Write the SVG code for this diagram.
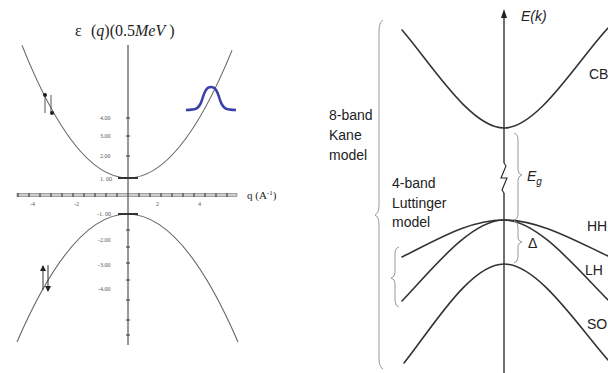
<svg xmlns="http://www.w3.org/2000/svg" width="608" height="373" viewBox="0 0 608 373">
<style>
.curveL{fill:none;stroke:#666;stroke-width:1.1}
.axisL{fill:none;stroke:#333;stroke-width:1}
.tickt{font-family:"Liberation Serif",serif;font-size:6px;fill:#555}
.serif{font-family:"Liberation Serif",serif;fill:#222}
.band{fill:none;stroke:#333;stroke-width:1.6;stroke-linecap:round}
.brace{fill:none;stroke:#999;stroke-width:1}
.lbl{font-family:"Liberation Sans",Arial,sans-serif;font-size:14px;fill:#222}
</style>
<defs>
<marker id="ah" viewBox="0 0 6 6" refX="5" refY="3" markerWidth="6" markerHeight="6" orient="auto" markerUnits="userSpaceOnUse">
<path d="M0,0 L6,3 L0,6 Z" fill="#222"/>
</marker>
</defs>
<rect width="608" height="373" fill="#fff"/>

<!-- LEFT PANEL -->
<g id="left-title">
<text class="serif" x="75" y="36" font-size="16">ε<tspan x="91">(</tspan><tspan font-style="italic">q</tspan>)(0.5<tspan font-style="italic">MeV</tspan> )</text>
</g>
<g id="left-axes">
<rect x="17" y="193.5" width="220" height="3" fill="#ccc" stroke="#777" stroke-width="0.6"/>
<path class="axisL" d="M18,193v4M29,193v4M40,193v4M51,193v4M62,193v4M73,193v4M84,193v4M95,193v4M106,193v4M117,193v4M139,193v4M150,193v4M161,193v4M172,193v4M183,193v4M194,193v4M205,193v4M216,193v4M227,193v4"/>
<line class="axisL" x1="128" y1="45" x2="128" y2="345" stroke-width="1.2"/>
<path class="axisL" d="M126,118h4M126,136h4M126,156h4M126,230h4M126,247h4M126,263h4M126,280h4M126,300h4M126,320h4M126,335h4"/>
<text class="serif" x="247" y="199" font-size="11">q (A<tspan font-size="7" dy="-4">-1</tspan><tspan dy="4">)</tspan></text>
<g class="tickt">
<text x="30" y="206">-4</text>
<text x="74" y="206">-2</text>
<text x="156" y="206">2</text>
<text x="198" y="206">4</text>
<text x="100" y="120">4.00</text>
<text x="100" y="138">3.00</text>
<text x="100" y="158">2.00</text>
<text x="100" y="181">1. 00</text>
<text x="97" y="216">-1. 00</text>
<text x="98" y="242">-2.00</text>
<text x="98" y="267">-3.00</text>
<text x="98" y="291">-4.00</text>
</g>
</g>
<g id="upper-band">
<path class="curveL" d="M22,45.4 Q127,308.1 232,50.4"/>
<line x1="118" y1="178" x2="138" y2="178" stroke="#333" stroke-width="2"/>
</g>
<g id="lower-band">
<path class="curveL" d="M17,342 Q127.5,86 238,342"/>
<line x1="118" y1="214" x2="138" y2="214" stroke="#333" stroke-width="2"/>
</g>
<g id="spin-upper">
<line x1="45" y1="93" x2="45" y2="113" stroke="#555" stroke-width="1"/>
<line x1="51" y1="95" x2="51" y2="112" stroke="#555" stroke-width="1"/>
<circle cx="45" cy="95" r="2" fill="#222"/>
<circle cx="52" cy="113" r="2" fill="#222"/>
</g>
<g id="spin-lower">
<line x1="43" y1="290" x2="43" y2="266" stroke="#333" stroke-width="1" marker-end="url(#ah)"/>
<line x1="48" y1="265" x2="48" y2="291" stroke="#333" stroke-width="1" marker-end="url(#ah)"/>
</g>
<g id="wavepacket">
<path d="M186,110 C196,110 199,109 202,100 C205,90 207,87 211,87 C215,87 217,90 220,100 C223,109 226,110 236,110" fill="none" stroke="#3b3fa8" stroke-width="2.5"/>
</g>

<!-- RIGHT PANEL -->
<g id="energy-axis">
<line x1="504" y1="16" x2="504" y2="163" stroke="#222" stroke-width="1.3"/>
<path d="M504,9 L501,18 L507,18 Z" fill="#222"/>
<path d="M504,163 L506,166 L501,178 L507,178 L502,190 L504,193" fill="none" stroke="#222" stroke-width="1.1"/>
<line x1="504" y1="193" x2="504" y2="373" stroke="#222" stroke-width="1.3"/>
<text x="521" y="21" class="lbl" font-size="13" font-style="italic">E(k)</text>
</g>
<g id="CB">
<path class="band" d="M402,30 C430,62 470,128 504,128 C538,128 578,60 608,28"/>
<text x="589" y="79" class="lbl">CB</text>
</g>
<g id="HH">
<path class="band" d="M402,257 C440,238 470,220 504,220 C538,220 570,238 608,256"/>
<text x="587" y="231" class="lbl">HH</text>
</g>
<g id="LH">
<path class="band" d="M402,301 C430,272 470,220 504,220 C538,220 578,270 608,300"/>
<text x="585" y="275" class="lbl">LH</text>
</g>
<g id="SO">
<path class="band" d="M404,363 C432,328 470,264 504,264 C538,264 578,326 608,360"/>
<text x="587" y="329" class="lbl">SO</text>
</g>
<g id="kane-model">
<path class="brace" d="M383,20 Q379,22 379,32 L379,205 Q379,213 375,215 Q379,217 379,225 L379,358 Q379,367 383,369"/>
<text class="lbl" x="329" y="120">8-band</text>
<text class="lbl" x="329" y="140">Kane</text>
<text class="lbl" x="329" y="160">model</text>
</g>
<g id="luttinger-model">
<path class="brace" d="M399,247 Q395,248 395,254 L395,273 Q395,277 391,278 Q395,279 395,283 L395,301 Q395,306 399,307"/>
<text class="lbl" x="392" y="188">4-band</text>
<text class="lbl" x="392" y="208">Luttinger</text>
<text class="lbl" x="392" y="227">model</text>
</g>
<g id="gap-Eg">
<path class="brace" d="M514,133 Q518,134 518,140 L518,170 Q518,174 522,175 Q518,176 518,180 L518,213 Q518,219 514,220"/>
<text class="lbl" x="527" y="181" font-size="17" font-style="italic">E<tspan font-size="10" dy="4">g</tspan></text>
</g>
<g id="split-delta">
<path class="brace" d="M514,221 Q518,222 518,227 L518,238 Q518,241 522,242 Q518,243 518,246 L518,257 Q518,262 514,263"/>
<text class="lbl" x="528" y="248" font-size="13">Δ</text>
</g>
</svg>
